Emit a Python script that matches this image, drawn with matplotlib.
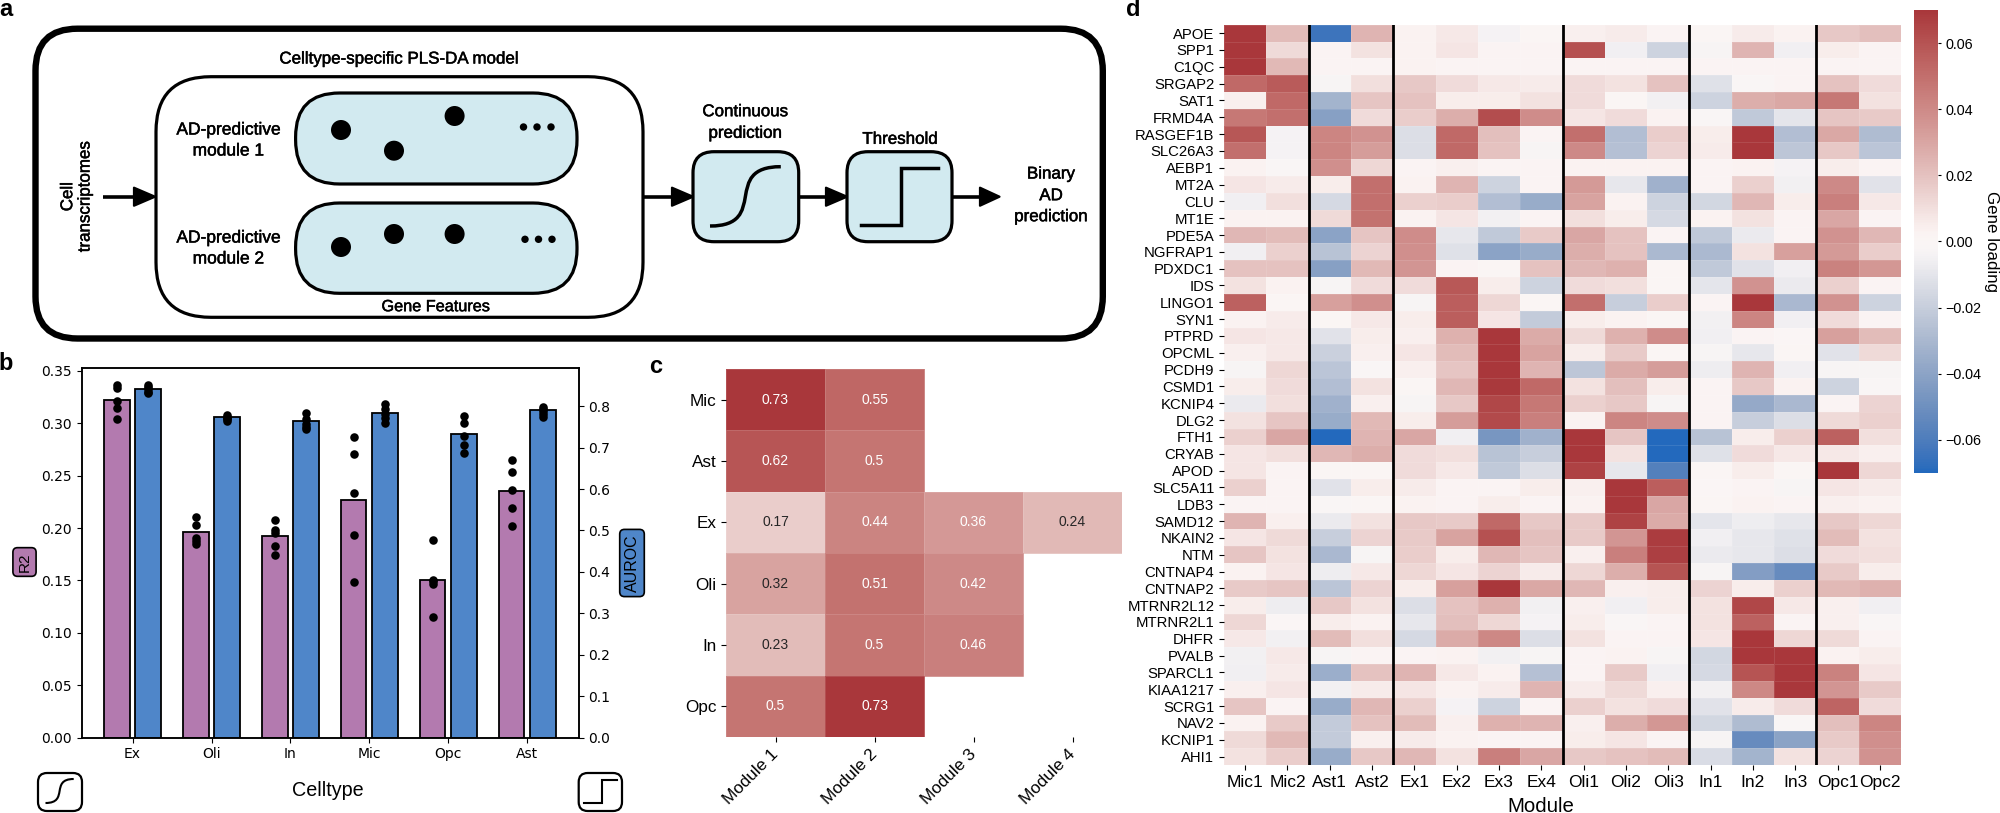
import numpy as np
import matplotlib
matplotlib.use("Agg")
import matplotlib.pyplot as plt
import matplotlib.patheffects as pe
import seaborn as sns
from matplotlib.patches import FancyBboxPatch, Polygon, Circle, PathPatch
from matplotlib.path import Path
from matplotlib.transforms import ScaledTranslation

W, H = 2000, 813
HELV = ["Liberation Sans", "DejaVu Sans"]
plt.rcParams["font.family"] = HELV

# ---------- panel b data ----------
celltypes = ["Ex", "Oli", "In", "Mic", "Opc", "Ast"]
r2_mean = [0.322, 0.196, 0.192, 0.227, 0.150, 0.235]
auroc_mean = [0.8405, 0.7737, 0.7633, 0.7833, 0.7327, 0.7898]
r2_points = [
    [0.3361, 0.3339, 0.3211, 0.3145, 0.3044],
    [0.2103, 0.2030, 0.1906, 0.1877, 0.1843],
    [0.2081, 0.1979, 0.1957, 0.1824, 0.1741],
    [0.2865, 0.2706, 0.2332, 0.1932, 0.1484],
    [0.1884, 0.1505, 0.1490, 0.1465, 0.1153],
    [0.2649, 0.2535, 0.2363, 0.2189, 0.2020],
]
auroc_points = [
    [0.8510, 0.8453, 0.8405, 0.8348, 0.8308],
    [0.7785, 0.7737, 0.7720, 0.7689, 0.7647],
    [0.7842, 0.7682, 0.7561, 0.7489, 0.7455],
    [0.8051, 0.7922, 0.7802, 0.7720, 0.7585],
    [0.7770, 0.7601, 0.7287, 0.7070, 0.6877],
    [0.7986, 0.7923, 0.7875, 0.7802, 0.7737],
]

# ---------- panel c data ----------
c_rows = ["Mic", "Ast", "Ex", "Oli", "In", "Opc"]
c_cols = ["Module 1", "Module 2", "Module 3", "Module 4"]
c_values = [
    [0.73, 0.55, np.nan, np.nan],
    [0.62, 0.50, np.nan, np.nan],
    [0.17, 0.44, 0.36, 0.24],
    [0.32, 0.51, 0.42, np.nan],
    [0.23, 0.50, 0.46, np.nan],
    [0.50, 0.73, np.nan, np.nan],
]

# ---------- panel d data (loadings x 1000) ----------
genes = ["APOE", "SPP1", "C1QC", "SRGAP2", "SAT1", "FRMD4A", "RASGEF1B", "SLC26A3", "AEBP1", "MT2A", "CLU",
         "MT1E", "PDE5A", "NGFRAP1", "PDXDC1", "IDS", "LINGO1", "SYN1", "PTPRD", "OPCML", "PCDH9", "CSMD1",
         "KCNIP4", "DLG2", "FTH1", "CRYAB", "APOD", "SLC5A11", "LDB3", "SAMD12", "NKAIN2", "NTM", "CNTNAP4",
         "CNTNAP2", "MTRNR2L12", "MTRNR2L1", "DHFR", "PVALB", "SPARCL1", "KIAA1217", "SCRG1", "NAV2", "KCNIP1", "AHI1"]
modules = ["Mic1", "Mic2", "Ast1", "Ast2", "Ex1", "Ex2", "Ex3", "Ex4", "Oli1", "Oli2", "Oli3", "In1", "In2", "In3", "Opc1", "Opc2"]
loadings = [
    [70, 22, -64, 25, 3, 7, -4, 1, 4, 6, 2, 1, 6, 3, 18, 21],
    [70, 12, 2, 9, 3, 8, 2, 2, 61, -6, -18, -3, 25, -6, 5, 2],
    [70, 23, 2, 2, 3, 2, 2, 2, 2, 2, 2, 2, 2, 2, 2, 2],
    [52, 57, -3, 10, 18, 11, 7, 6, 11, 9, 20, -12, -2, 2, 20, 11],
    [4, 52, -32, 19, 20, 5, 5, 9, 11, 1, -5, -18, 27, 29, 47, 9],
    [47, 50, -42, 11, 16, 27, 62, 39, 8, 11, 3, -2, -22, -10, 19, 17],
    [59, -4, 42, 37, -13, 52, 21, 2, 50, -27, 16, 5, 70, -27, 29, -28],
    [50, -4, 42, 33, -13, 52, 20, -3, 40, -26, 14, 6, 70, -23, 18, -24],
    [3, -2, 38, 13, 2, 4, 2, 2, 3, 3, 3, 2, 3, -4, 5, 2],
    [8, 6, 5, 50, 3, 25, -18, 2, 34, -9, -33, 2, 15, -5, 40, -11],
    [-6, 10, -15, 50, 15, 16, -27, -36, 31, 3, -18, -16, 24, 5, 44, 7],
    [3, 3, 12, 49, 3, 8, -5, 2, 10, 5, -15, 3, 9, 2, 30, 2],
    [24, 22, -40, 19, 39, -9, -22, 17, 30, 20, 2, -22, -8, 2, 37, 24],
    [-6, 15, -25, 14, 38, -12, -40, -36, 27, 20, -29, -29, 9, 32, 34, 16],
    [20, 20, -42, 23, 36, 2, 1, 20, 24, 26, 1, -22, -11, -6, 43, 35],
    [9, 3, -3, 11, 11, 58, 5, -18, 11, 10, 1, -10, 37, -8, 15, 2],
    [55, 1, 32, 38, -3, 56, 13, 1, 50, -20, 16, 2, 70, -30, 37, -18],
    [3, 6, 1, 7, 5, 56, 8, -21, 5, 3, 1, -5, 42, -6, 11, 2],
    [8, 7, -11, 5, 4, 26, 70, 28, 12, 26, 39, -6, 2, -1, 32, 22],
    [4, 7, -19, 4, 8, 22, 70, 31, 5, 17, 1, -3, -9, 0, -11, 12],
    [-3, 13, -24, -2, 4, 19, 70, 25, -23, 28, 33, -7, 25, -6, -3, -3],
    [5, 11, -27, 9, 1, 24, 69, 52, 9, 21, 5, 2, 18, 3, -18, -2],
    [-8, 10, -33, 4, -3, 18, 64, 47, 15, 18, -3, 2, -37, -30, 2, 14],
    [9, 19, -36, 23, 5, 33, 63, 44, 3, 42, 39, 2, -20, -13, 12, 15],
    [15, 30, -70, 25, 30, -6, -47, -33, 70, 19, -70, -25, 5, 15, 55, 10],
    [8, 10, 24, 27, 11, 10, -25, -20, 70, 9, -70, -12, 11, 7, 7, 4],
    [8, 2, 1, 1, 11, 7, -22, -13, 66, -9, -58, 1, 5, 1, 70, 13],
    [15, 2, -11, 5, 6, 2, 2, 5, 4, 70, 56, -1, 2, -3, 8, 6],
    [2, 2, -2, 1, 3, 2, 5, 2, 3, 70, 30, 1, 3, 2, 4, 3],
    [25, 4, -8, 9, 18, 17, 52, 18, 17, 66, 28, -10, -7, -9, 18, 13],
    [8, 12, -20, 14, 17, 31, 61, 21, 17, 36, 68, -6, -9, -12, 22, 9],
    [19, 9, -30, -3, 16, 5, 24, 19, 4, 44, 67, -8, -9, -13, 11, 10],
    [3, 8, -7, 7, 13, 8, 14, 6, 13, 27, 60, -3, -43, -52, 17, 5],
    [17, 19, -24, 14, 5, 32, 70, 29, 24, 4, 5, 14, 5, 15, 23, 26],
    [5, -7, 18, 9, -13, 20, 26, -5, 4, -6, 5, 9, 64, 7, 4, -6],
    [13, -1, 5, 3, -9, 21, 13, -4, 5, -2, 2, 9, 55, 2, 4, -2],
    [7, -5, 22, 10, -15, 28, 41, -13, 9, 2, 2, 8, 70, 13, 12, 2],
    [-5, 7, -3, 2, 2, 3, -5, -3, 2, 3, -3, -16, 70, 70, 3, 5],
    [-6, 6, -35, 20, 25, 7, 3, -26, 2, 17, -6, -15, 60, 70, 43, 8],
    [4, 8, -5, 6, 8, 3, 6, 25, 6, 12, 4, -5, 41, 70, 36, 17],
    [19, 2, -36, 24, 15, -4, -18, 2, 15, 9, 11, -11, 6, 11, 54, 11],
    [3, 17, -21, 20, 22, 4, 26, 25, 4, 27, 35, -16, -28, -2, 21, 42],
    [12, 23, -21, 4, 6, 3, 2, 2, 5, 8, 2, -3, -52, -40, 17, 38],
    [9, 16, -36, 18, 24, 9, 44, 30, 18, 20, 22, -14, -32, 9, 14, 37],
]
module_breaks = [2, 4, 8, 11, 14]

vlag = sns.color_palette("vlag", as_cmap=True)
fig = plt.figure(figsize=(W / 100, H / 100), dpi=100, facecolor="white")


def rect(x0, y0, x1, y1):
    return [x0 / W, 1 - y1 / H, (x1 - x0) / W, (y1 - y0) / H]


# ---------- overlay for schematic ----------
ov = fig.add_axes([0, 0, 1, 1], zorder=0)
ov.set_xlim(0, W)
ov.set_ylim(H, 0)
ov.axis("off")


def rbox(x0, y0, x1, y1, r, lw, fc="none"):
    ov.add_patch(FancyBboxPatch((x0, y0), x1 - x0, y1 - y0, boxstyle=f"round,pad=0,rounding_size={r}",
                                fc=fc, ec="black", lw=lw, mutation_aspect=1))


def arrow(x0, x1, hs, y):
    ov.plot([x0, hs + 3], [y, y], color="black", lw=2.6, solid_capstyle="butt")
    ov.add_patch(Polygon([(hs, y - 9), (x1, y), (hs, y + 9)], closed=True, fc="black", ec="black", lw=1.6, joinstyle="round"))


def sigmoid(x0, y0, x1, y1, lw):
    w = x1 - x0
    p = Path([(x0, y0), (x0 + 0.85 * w, y0), (x1 - 0.85 * w, y1), (x1, y1)],
             [Path.MOVETO, Path.CURVE4, Path.CURVE4, Path.CURVE4])
    ov.add_patch(PathPatch(p, fc="none", ec="black", lw=lw, capstyle="butt"))


BLUE_BG = "#D2EAF0"
rbox(35.5, 28.7, 1102.8, 338.5, 42, 4.6)
rbox(156, 76.7, 643, 317.3, 55, 2.3)
rbox(295.6, 93, 577, 184, 44, 2.3, BLUE_BG)
rbox(295.6, 203, 577, 293.3, 44, 2.3, BLUE_BG)
for (cx, cy) in [(341, 130), (394, 150.7), (454.6, 116), (341, 247), (394, 234), (454.6, 234)]:
    ov.add_patch(Circle((cx, cy), 10, fc="black", ec="none"))
for cy, xs in [(127, (523.5, 537, 551)), (239.3, (525, 538.5, 552))]:
    for cx in xs:
        ov.add_patch(Circle((cx, cy), 3.7, fc="black", ec="none"))
rbox(693, 151.7, 798.7, 241.7, 21, 2.3, BLUE_BG)
rbox(847, 151.7, 952, 241.7, 21, 2.3, BLUE_BG)
sigmoid(710, 226, 780.8, 166.7, 2.5)
ov.plot([861, 901.3, 901.3, 937.5], [225, 225, 168.3, 168.3], color="black", lw=2.5, solid_joinstyle="miter")
arrow(103, 155, 134, 196.7)
arrow(643, 693, 672, 196.7)
arrow(798.7, 847, 826, 196.7)
arrow(952, 999.5, 980, 196.7)

STROKE = [pe.withStroke(linewidth=0.35, foreground="black")]


def t(x, y, s, size=12, **kw):
    kw.setdefault("ha", "center")
    kw.setdefault("va", "center")
    kw.setdefault("family", HELV)
    ov.text(x, y, s, fontsize=size, **kw)


for x0, y0, s, sz, rot in [
    (399, 59, "Celltype-specific PLS-DA model", 12.2, 0),
    (228.5, 130, "AD-predictive", 12.5, 0),
    (228.5, 151, "module 1", 12.5, 0),
    (228.5, 238, "AD-predictive", 12.5, 0),
    (228.5, 259, "module 2", 12.5, 0),
    (67.7, 196.7, "Cell", 12.2, 90),
    (85, 196.7, "transcriptomes", 12.2, 90),
    (436, 306.7, "Gene Features", 11.7, 0),
    (745.3, 111.7, "Continuous", 12.2, 0),
    (745.3, 133.3, "prediction", 12.2, 0),
    (900, 139.3, "Threshold", 12.2, 0),
    (1051, 174, "Binary", 12.2, 0),
    (1051, 195.7, "AD", 12.2, 0),
    (1051, 216.7, "prediction", 12.2, 0),
]:
    t(x0, y0, s, sz, rotation=rot, path_effects=STROKE)
t(5.7, 10, "a", 17, weight="bold")
t(5.5, 363, "b", 17, weight="bold")
t(656, 366.5, "c", 17, weight="bold")
t(1133, 10, "d", 17, weight="bold")

# ---------- panel b ----------
PURPLE, BLUE = "#B37AAF", "#4F86C9"
axb = fig.add_axes(rect(81.6, 368, 578.7, 737.7), zorder=2)
x = np.arange(len(celltypes))
bw, off = 0.325, 0.2
axb.bar(x - off, r2_mean, bw, color=PURPLE, edgecolor="black", lw=1.3)
for xi, pts in zip(x, r2_points):
    axb.scatter([xi - off] * len(pts), pts, s=38, color="black", zorder=3, lw=0)
axb.set_xlim(-0.645, 5.65)
axb.set_ylim(0, 0.3526)
axb.set_xticks(x)
axb.set_xticklabels(celltypes, family="DejaVu Sans", fontsize=10)
axb.set_yticks([0, .05, .10, .15, .20, .25, .30, .35])
axb.set_yticklabels([f"{v:.2f}" for v in [0, .05, .10, .15, .20, .25, .30, .35]], family="DejaVu Sans", fontsize=10)
for s in axb.spines.values():
    s.set_linewidth(1.1)
axr = axb.twinx()
axr.set_zorder(3)
axr.bar(x + off, auroc_mean, bw, color=BLUE, edgecolor="black", lw=1.3)
for xi, pts in zip(x, auroc_points):
    axr.scatter([xi + off] * len(pts), pts, s=38, color="black", zorder=3, lw=0)
axr.set_ylim(0, 0.892)
axr.set_yticks(np.arange(0, 0.81, 0.1))
axr.set_yticklabels([f"{v:.1f}" for v in np.arange(0, 0.81, 0.1)], family="DejaVu Sans", fontsize=10)
for s in axr.spines.values():
    s.set_linewidth(1.1)

t(24.5, 562, "R2", 11, rotation=90, bbox=dict(boxstyle="round,pad=0.3,rounding_size=0.3", fc=PURPLE, ec="black", lw=1.2))
t(632, 563, "AUROC", 11.5, rotation=90, bbox=dict(boxstyle="round,pad=0.3,rounding_size=0.3", fc=BLUE, ec="black", lw=1.2))
t(328, 790.7, "Celltype", 14.2)
rbox(38, 773, 82, 811, 9, 1.6)
rbox(578.7, 773, 622, 811, 9, 1.6)
sigmoid(45.5, 803, 73.7, 779, 1.5)
ov.plot([584, 602, 602, 616.6], [803, 803, 780, 780], color="black", lw=1.5, solid_joinstyle="miter")

# ---------- panel c ----------
axc = fig.add_axes(rect(726, 369, 1122, 737), zorder=2)
C = np.ma.masked_invalid(np.array(c_values, dtype=float))
axc.pcolormesh(C, cmap=vlag, vmin=-0.73, vmax=0.73, edgecolors=(1, 1, 1, 0.12), linewidth=0.5)
axc.set_xlim(0, 4)
axc.set_ylim(6, 0)
for s in axc.spines.values():
    s.set_visible(False)
axc.patch.set_alpha(0)
for i, row in enumerate(c_values):
    for j, v in enumerate(row):
        if not np.isnan(v):
            axc.text(j + .5, i + .5, f"{v:g}", ha="center", va="center", fontsize=10, family=HELV,
                     color="white" if v > 0.33 else "#262626")
axc.set_yticks(np.arange(6) + .5)
axc.set_yticklabels(c_rows, fontsize=12.3, family=HELV)
axc.set_xticks(np.arange(4) + .5)
labs = axc.set_xticklabels(c_cols, fontsize=12.3, family=HELV, rotation=45, ha="right")
for l in labs:
    l.set_transform(l.get_transform() + ScaledTranslation(6 / 100, 0, fig.dpi_scale_trans))

# ---------- panel d ----------
axd = fig.add_axes(rect(1224, 24.7, 1901, 765), zorder=2)
D = np.array(loadings, dtype=float) / 1000
mesh = axd.pcolormesh(D, cmap=vlag, vmin=-0.07, vmax=0.07, edgecolors=(1, 1, 1, 0.1), linewidth=0.4)
axd.set_xlim(0, 16)
axd.set_ylim(44, 0)
for s in axd.spines.values():
    s.set_visible(False)
axd.set_yticks(np.arange(44) + .5)
axd.set_yticklabels(genes, fontsize=10.7, family=HELV)
axd.set_xticks(np.arange(16) + .5)
axd.set_xticklabels(modules, fontsize=12.5, family=HELV)
axd.tick_params(axis="y", length=3.5, pad=3.5)
axd.tick_params(axis="x", length=3.5, pad=3.5)
for b in module_breaks:
    axd.axvline(b, color="black", lw=2.0)
t(1541, 806, "Module", 14.7)

cax = fig.add_axes(rect(1914, 10, 1938, 473), zorder=2)
cb = fig.colorbar(mesh, cax=cax)
cb.outline.set_visible(False)
cb.set_ticks([-.06, -.04, -.02, 0, .02, .04, .06])
cb.ax.set_yticklabels(["\u22120.06", "\u22120.04", "\u22120.02", "0.00", "0.02", "0.04", "0.06"], fontsize=10.4, family=HELV)
cb.ax.tick_params(length=2.5, width=0.8, pad=3)
t(1992, 241, "Gene loading", 12.2, rotation=270)

fig.savefig("out.png", dpi=100)
